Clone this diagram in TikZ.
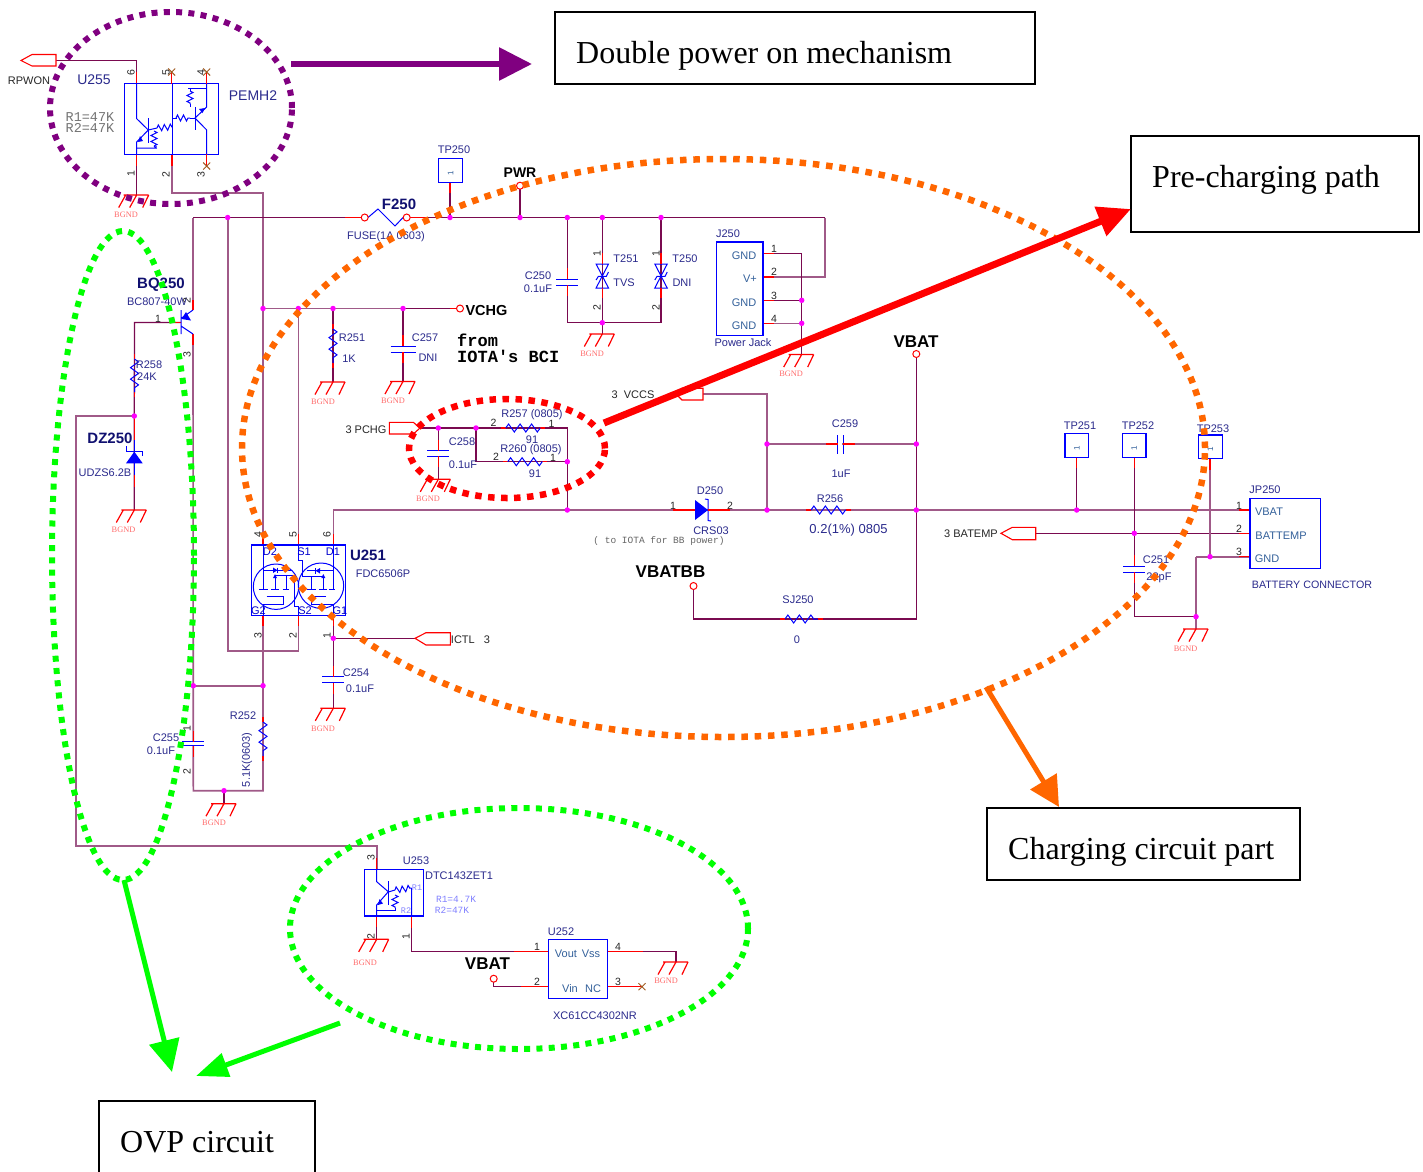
\documentclass[tikz,border=0pt]{standalone}
\usepackage{fontspec}
\setmainfont{Liberation Sans}
\newfontfamily\monof{Liberation Mono}
\newfontfamily\serf{Liberation Serif}
\usetikzlibrary{shapes.geometric,arrows.meta,decorations.pathmorphing}
\definecolor{wireD}{HTML}{7A0A50}
\definecolor{wireL}{HTML}{A05A88}
\definecolor{labB}{HTML}{2A2A8C}
\definecolor{pinB}{HTML}{33609A}
\definecolor{symB}{HTML}{0000FF}
\definecolor{navyB}{HTML}{101070}
\definecolor{gndR}{HTML}{FF6A6A}
\definecolor{xbr}{HTML}{A05A20}
\definecolor{orgD}{HTML}{FF6600}
\definecolor{grnD}{HTML}{00FF00}
\definecolor{purD}{HTML}{800080}
\definecolor{jcol}{HTML}{FF00FF}
\definecolor{redD}{HTML}{FF0000}
\tikzset{
  wire/.style={draw=wireD,line width=1.3pt},
  wirel/.style={draw=wireL,line width=1.6pt},
  stub/.style={draw=redD,line width=1.2pt},
  sym/.style={draw=symB,line width=1pt},
  chip/.style={draw=symB,line width=1.2pt,inner sep=0pt,outer sep=0pt},
  res/.style={draw=symB,line width=1pt,decorate,decoration={zigzag,segment length=11.5pt,amplitude=4pt}},
  port/.style={draw=redD,fill=white,line width=1.1pt},
  jdot/.style={circle,fill=jcol,inner sep=0pt,minimum size=5.5pt},
  term/.style={circle,draw=redD,fill=white,line width=1pt,inner sep=0pt,minimum size=7pt},
  lbl/.style={inner sep=0pt,text=labB,font=\fontsize{11}{11}\selectfont},
  num/.style={inner sep=0pt,text=black!85,font=\fontsize{10.5}{10.5}\selectfont},
  rnum/.style={num,rotate=90},
  pinl/.style={lbl,text=pinB},
  boldn/.style={inner sep=0pt,text=navyB,font=\fontsize{15}{15}\selectfont\bfseries},
  boldk/.style={inner sep=0pt,text=black,font=\fontsize{17}{17}\selectfont\bfseries},
  blk/.style={lbl,text=black!85},
  gndt/.style={inner sep=0pt,text=gndR,font=\fontsize{8.3}{8.3}\selectfont\serf},
  callout/.style={draw=black,line width=1.3pt,fill=white,rectangle,inner sep=0pt,outer sep=0pt},
  calltext/.style={inner sep=0pt,anchor=west,text=black,font=\fontsize{32}{32}\selectfont\serf},
  ring/.style={draw,ellipse,inner sep=0pt,outer sep=0pt},
  purring/.style={ring,draw=purD,line width=6pt,dash pattern=on 6pt off 6.3pt},
  grnring/.style={ring,draw=grnD,line width=6pt,dash pattern=on 6pt off 6.3pt},
  redring/.style={ring,draw=redD,line width=6.5pt,dash pattern=on 6.5pt off 6.5pt},
  orgring/.style={ring,draw=orgD,line width=6.5pt,dash pattern=on 6.5pt off 6.8pt},
}
\newcount\labn
\newcommand\lab[4][lbl]{\global\advance\labn by 1 \node[#1] (T\the\labn) at (#2,#3+0.8) {#4};}
\newcommand\gndS[4]{% x y labelx labely
  \draw[stub] (#1-13,#2) -- (#1+12,#2) (#1+12,#2) -- (#1+6,#2+12.5) (#1,#2) -- (#1-7,#2+12.5) (#1-11,#2) -- (#1-18,#2+12.5);
  \lab[gndt]{#3}{#4}{BGND}}
\newcommand\resH[3]{\draw[stub] (#1-5,#3) -- (#1,#3) (#2,#3) -- (#2+5,#3); \draw[res] (#1,#3) -- (#2,#3);}
\newcommand\resV[3]{\draw[stub] (#1,#2-5) -- (#1,#2) (#1,#3) -- (#1,#3+5); \draw[res] (#1,#2) -- (#1,#3);}
\newcommand\capH[4]{% x y1 y2 halfwidth: horizontal plates on a vertical wire
  \draw[draw=white,line width=3pt] (#1,#2) -- (#1,#3);
  \draw[sym] (#1-#4,#2) -- (#1+#4,#2) (#1-#4,#3) -- (#1+#4,#3);
  \draw[stub] (#1,#2-11) -- (#1,#2) (#1,#3) -- (#1,#3+11);}
\newcommand\xmark[2]{\draw[draw=xbr,line width=1pt] (#1-3.5,#2-3.5) -- (#1+3.5,#2+3.5) (#1-3.5,#2+3.5) -- (#1+3.5,#2-3.5);}
\newcommand\tvs[1]{% x, centred y=276
  \draw[sym] (#1-6.2,264) -- (#1+6.2,264) -- (#1,276) -- cycle (#1-6.2,288) -- (#1+6.2,288) -- (#1,276) -- cycle;
  \draw[sym] (#1-6.2,280) -- (#1-4,276.4) -- (#1+4,276.4) -- (#1+6.2,272);
  \draw[stub] (#1,253) -- (#1,264) (#1,288) -- (#1,298);}
\newcommand\tpbox[2]{% centre
  \node[chip,minimum width=23.6pt,minimum height=23.6pt] at (#1,#2) {};
  \lab[inner sep=0pt,text=pinB,rotate=90,font=\fontsize{8}{8}\selectfont]{#1}{#2+2}{1}}
\def\jlist{jA/227.7/217.5,jTA/450/217.5,jPW/520/217.5,jCa/567.3/217.5,jTb/602.3/217.5,jTc/661/217.5,
 jVa/263/308.5,jVb/298.3/308.5,jVc/333/308.5,jVd/403/308.5,jQ/134.3/416,jGa/193.3/685.7,jGb/263/685.7,jRb/224/790.7,
 jB/602.3/322.7,jJc/801.7/300.3,jJd/801.7/323.3,jPa/438.3/428,jPb/476/428,jRc/567.3/461.7,jBa/567.3/510,jCb/767/510,jCc/767/444,
 jVe/916.3/444,jVf/916.3/510,jTd/1076.7/510,jTe/1134.3/533.3,jI/333.3/638.3,jGc/1196/616.7,jTf/1210/556.7}
\begin{document}
\begin{tikzpicture}[x=1pt,y=-1pt]
\useasboundingbox (0,0) rectangle (1423,1171);
\clip (0,0) rectangle (1423,1171);
\foreach \n/\x/\y in \jlist {\coordinate (\n) at (\x,\y);}
% ---- named wire ends
\foreach \n/\x/\y in {pRP/56/60.7,pU6/136.7/83.5,pU1/136.7/154.3,pU2/172/154.3,gU/136.7/195,cU2/263/192.7,
 cRailL/193/217.5,fuL/364.7/217.5,fuR/406.7/217.5,cRailR/825/217.5,cJ2/825/277,J2/763/277,J1/763/253.3,J3/763/300.3,J4/763/323.3,cJ1/801.7/253.3,gJ/801.7/354.5,
 tp0/450/182.3,pwr/520/185.7,vchg/460/308.5,gR1/333/382,gC7/403/381.5,gB/602.3/334,cC0/567.3/322.7,cT0/661/322.7,
 cQb/134.5/322.5,qB/181/322.5,qC/193/300,qE/193/345,cQl/76/416,cOv/76/846,cOr/376.7/846,uT/376.7/869.3,uB/376.7/916,gU3/376.7/939.3,
 gZ/134.3/510,cG/193.3/790.7,cGr/263/790.7,gRb/224/803.7,cWl/227.7/650.7,cWr/298.3/650.7,uS2/298.3/615.3,uS1/298.3/545,uD2/263/545,uG2/263/615.3,
 uD1/333.3/545,cD1/333.3/510,uG1/333.3/615.3,gC4/333.3/708.3,iPort/415/638.3,pchg/420/428,cRa/567.3/428,cRb/476/461.7,gC8/438.3/479.3,
 jp1/1250/510,jp2/1250/533.3,jp3/1250/556.7,bPort/1035.7/533.3,tp1/1076.7/457.3,tp2/1134.3/457.3,tp3/1210/458.7,cBot/1134.3/616.7,cGnd/1196/556.7,gBat/1196/629,
 vccs/703/394,cVc/767/394,vbat/916.3/354,cVs/916.3/619,vbb/693.5/586,cVb/693.5/619,
 u3p/411.7/916,cU3/411.7/951.7,v1/548.7/951.7,v2/548.7/986.7,v4/607.7/951.7,v3/607.7/986.7,cV4/676/951.7,gV/676/962,xV/642/986.7,vb2/493.7/978.7,cV2/493.7/986.7}
 {\coordinate (\n) at (\x,\y);}
% ---- wires
\draw[wire] (pRP) -| (pU6);
\draw[wire] (pU1) -- (gU);
\draw[wirel] (pU2) |- (cU2) -- (jVa) -- (uD2);
\draw[wire] (cRailL) -- (fuL);
\draw[wire] (fuR) -- (jTA) -- (jPW) -- (jCa) -- (jTb) -- (jTc) -- (cRailR);
\draw[wirel] (cRailR) -- (cJ2) -- (J2);
\draw[wirel] (cRailL) -- (qC);
\draw[wirel] (qE) -- (cG) -- (cGr) -- (jGb) -- (uG2);
\draw[wirel] (jA) -- (cWl) -- (cWr) -- (uS2);
\draw[wirel] (jGa) -- (jGb);
\draw[wirel] (jVb) -- (uS1);
\draw[wirel] (jVa) -- (jVd);
\draw[wire] (jVd) -- (vchg);
\draw[wire] (jVc) -- (gR1);
\draw[wire] (jVd) -- (gC7);
\draw[wire] (jTA) -- (tp0);
\draw[wire] (jPW) -- (pwr);
\draw[wire] (jCa) |- (jB);
\draw[wire] (jTc) |- (jB);
\draw[wire] (jTb) -- (gB);
\draw[wire] (J1) -- (cJ1) -- (gJ);
\draw[wire] (J3) -- (jJc);
\draw[wirel] (J4) -- (jJd);
\draw[wire] (qB) -- (cQb) -- (jQ) -- (gZ);
\draw[wirel] (jQ) -- (cQl) -- (cOv) -- (cOr) -- (uT);
\draw[wire] (jRb) -- (gRb);
\draw[wire] (uB) -- (gU3);
\draw[wire] (u3p) |- (v1);
\draw[wire] (pchg) -- (cRa) -- (jBa);
\draw[wire] (jPb) |- (jRc);
\draw[wire] (jPa) -- (gC8);
\draw[wirel] (uD1) |- (jp1);
\draw[wire] (uG1) -- (gC4);
\draw[wire] (jI) -- (iPort);
\draw[wirel] (vccs) -| (jCb);
\draw[wirel] (jCc) -- (jVe);
\draw[wire] (vbat) -- (cVs) -| (vbb);
\draw[wire] (bPort) -- (jp2);
\draw[wire] (tp1) -- (jTd);
\draw[wire] (tp2) -- (cBot) -- (jGc);
\draw[wirel] (cGnd) -- (gBat);
\draw[wirel] (jp3) -- (cGnd);
\draw[wirel] (tp3) -- (jTf);
\draw[wire] (v4) -| (gV);
\draw[wire] (vb2) |- (v2);
\draw[stub] (v3) -- (xV);
\draw[stub] (v2) -- ++(-28,0) (v1) -- ++(-35,0) (v4) -- ++(35,0);
\draw[stub] (pU6) -- ++(0,-12) (pU1) -- ++(0,12) (pU2) -- ++(0,12) (uT) -- ++(0,-11) (uB) -- ++(0,11) (u3p) -- ++(0,12);
\draw[stub] (uD2) -- ++(0,-11) (uS1) -- ++(0,-11) (uD1) -- ++(0,-11) (uG2) -- ++(0,11) (uS2) -- ++(0,11) (uG1) -- ++(0,11);
\draw[stub] (J1) -- ++(11,0) (J2) -- ++(11,0) (J3) -- ++(11,0) (J4) -- ++(11,0) (tp0) -- ++(0,10.7) (tp1) -- ++(0,11) (tp2) -- ++(0,11) (tp3) -- ++(0,11);
\draw[stub] (jp1) -- ++(-11,0) (jp2) -- ++(-11,0) (jp3) -- ++(-11,0);
\draw[stub] (fuL) -- ++(-20,0) (fuR) -- ++(20,0) (vchg) -- ++(-10,0);
\draw[stub] (qB) -- ++(-12,0) (qC) -- ++(0,10) (qC) ++(0,34) -- ++(0,11);
% ---- RPWON and ports
\draw[port] (21,60.5) -- (32,54.5) -- (56,54.5) -- (56,66) -- (32,66) -- cycle;
\draw[port] (389.3,422.3) -- (413.3,422.3) -- (420,428) -- (413.3,434) -- (389.3,434) -- cycle;
\draw[port] (415,638.3) -- (426,632.7) -- (450.3,632.7) -- (450.3,645) -- (426,645) -- cycle;
\draw[port] (676,394) -- (682,388.2) -- (703,388.2) -- (703,400) -- (682,400) -- cycle;
\draw[port] (1001,533.3) -- (1012.3,527.3) -- (1035.7,527.3) -- (1035.7,539.7) -- (1012.3,539.7) -- cycle;
% ---- U255
\node[chip,minimum width=94.2pt,minimum height=70.8pt] (U255) at (171.6,118.9) {};
\draw[sym] (136.7,83.5) -- (136.7,118.7) -- (148.3,130) -- (136.7,142) -- (136.7,154.3);
\draw[sym] (148.3,118) -- (148.3,143);
\fill[symB] (138,142) -- (143,141) -- (140,136) -- cycle;
\draw[sym] (172,84) -- (172,154.3) (172,118.3) -- (177,118.3);
\draw[res,decoration={zigzag,segment length=6pt,amplitude=3pt}] (157,128) -- (172,127);
\draw[sym] (148.3,130) -- (157,128);
\draw[res,decoration={zigzag,segment length=6pt,amplitude=3pt}] (154,131) -- (154,146);
\draw[sym] (154,146) -- (156,148) -- (136.7,148) (156,148) -- (156,146);
\draw[sym] (206.7,84) -- (206.7,107) -- (195,118) -- (206.7,130) -- (206.7,154.3);
\draw[sym] (195,107) -- (195,130);
\fill[symB] (205,108) -- (199,109) -- (202.5,113) -- cycle;
\draw[res,decoration={zigzag,segment length=6pt,amplitude=3pt}] (176,118) -- (190,118);
\draw[sym] (190,118) -- (195,118);
\draw[res,decoration={zigzag,segment length=6pt,amplitude=3pt}] (190,91) -- (190,104);
\draw[sym] (188,88.5) -- (206.7,88.5) (190,88.5) -- (190,91) (190,104) -- (190,107);
\draw[stub] (171.7,72) -- (171.7,83.5) (206.7,72) -- (206.7,83.5) (206.7,154.3) -- (206.7,166);
\xmark{171.7}{72}\xmark{206.7}{72}\xmark{206.7}{166}
\lab[blk]{29}{79.5}{RPWON}
\lab[lbl,font=\fontsize{14}{14}\selectfont]{94}{78.5}{U255}
\lab[lbl,font=\fontsize{14}{14}\selectfont]{253}{95}{PEMH2}
\lab[lbl,text=black!55,font=\fontsize{13.5}{11}\selectfont\monof]{90}{116}{R1=47K}
\lab[lbl,text=black!55,font=\fontsize{13.5}{11}\selectfont\monof]{90}{127}{R2=47K}
\lab[rnum]{131}{72}{6}\lab[rnum]{166}{72}{5}\lab[rnum]{201}{72}{4}
\lab[rnum]{131}{173}{1}\lab[rnum]{166}{174}{2}\lab[rnum]{201}{174}{3}
\gndS{136.7}{195}{126}{214}
% ---- F250, TP250
\draw[sym] (368,217.5) -- (378,209) -- (395,226) -- (403,217.5);
\node[term] (F1) at (fuL) {};
\node[term] (F2) at (fuR) {};
\lab[boldn]{399}{204}{F250}
\lab{386}{236}{FUSE(1A 0603)}
\tpbox{450.5}{170.5}
\lab{454}{149}{TP250}
\lab[boldk,font=\fontsize{14}{14}\selectfont\bfseries]{520}{172}{PWR}
\node[term] (PWRt) at (pwr) {};
% ---- VCHG group
\node[term] (VC) at (vchg) {};
\lab[boldk,font=\fontsize{14.5}{14.5}\selectfont\bfseries]{486.5}{309.5}{VCHG}
\resV{333}{329}{363}
\lab{352}{337}{R251}\lab{349}{358}{1K}
\gndS{333}{382}{323}{401}
\capH{403}{346}{352}{12.5}
\lab{425}{337}{C257}\lab{428}{357}{DNI}
\gndS{403}{381.5}{393}{400}
\lab[lbl,anchor=west,text=black,font=\fontsize{17}{14}\selectfont\monof\bfseries]{457}{339.5}{from}
\lab[lbl,anchor=west,text=black,font=\fontsize{17}{14}\selectfont\monof\bfseries]{457}{355.5}{IOTA's BCI}
% ---- C250 T251 T250 J250
\capH{567.3}{279.3}{285}{11}
\lab{538}{275}{C250}\lab{538}{288}{0.1uF}
\tvs{602.3}\tvs{661}
\lab[rnum]{597}{253}{1}\lab[rnum]{597}{307}{2}\lab[rnum]{656}{253}{1}\lab[rnum]{656}{307}{2}
\lab{626}{258}{T251}\lab{624}{282}{TVS}\lab{685}{258}{T250}\lab{682}{282}{DNI}
\gndS{602.3}{334}{592}{353}
\node[chip,minimum width=46.7pt,minimum height=93.7pt] (J250) at (739.7,288.9) {};
\lab{728}{233}{J250}\lab{743}{342}{Power Jack}
\lab[pinl]{744}{255}{GND}\lab[pinl]{750}{278}{V+}\lab[pinl]{744}{302}{GND}\lab[pinl]{744}{325}{GND}
\lab[num]{774}{248}{1}\lab[num]{774}{271}{2}\lab[num]{774}{295}{3}\lab[num]{774}{318}{4}
\gndS{801.7}{354.5}{791}{373}
% ---- BQ250, R258, DZ250
\draw[sym] (181,310) -- (181,334) (181,318.5) -- (193,310) (181,326) -- (193,334);
\fill[symB] (181.5,319) -- (191,320.5) -- (186,312) -- cycle;
\lab[boldn]{161}{284}{BQ250}
\lab{157}{301}{BC807-40W}
\lab[rnum]{187}{300}{2}\lab[num]{158}{318}{1}\lab[rnum]{187}{354}{3}
\resV{134.5}{359}{392}
\lab{149}{364}{R258}\lab{147}{376}{24K}
\draw[stub] (134.3,416) -- (134.3,440) (134.3,463) -- (134.3,487);
\draw[sym] (134.3,440) -- (134.3,451.7) (134.3,463) -- (134.3,475);
\draw[sym] (126,446) -- (126,451.7) -- (142.7,451.7) -- (142.7,456);
\fill[symB] (134.3,451.7) -- (126,463.3) -- (142.7,463.3) -- cycle;
\lab[boldn]{110}{438}{DZ250}
\lab{105}{472}{UDZS6.2B}
\gndS{134.3}{510}{123.5}{529}
% ---- C255, R252
\capH{193.3}{741.7}{745.7}{11}
\lab{166}{737}{C255}\lab{161}{750}{0.1uF}
\lab[rnum]{187}{728}{1}\lab[rnum]{187}{771}{2}
\resV{263}{722}{756}
\lab{243}{715}{R252}
\lab[lbl,rotate=90]{247}{759}{5.1K(0603)}
\gndS{224}{803.7}{214}{822}
% ---- U251
\node[chip,minimum width=94pt,minimum height=70.3pt] (U251) at (298.7,580.2) {};
\draw[sym] (276,586.7) circle[radius=22.7];
\draw[sym] (321,585.7) circle[radius=22.7];
\draw[sym] (263.3,545) -- (263.3,589.6) (259.3,589.6) -- (267.7,589.6);
\draw[sym] (275,575) -- (275,589.6) (271,589.6) -- (279.3,589.6);
\draw[sym] (286.7,575) -- (286.7,589.6) (282.7,589.6) -- (289,589.6) (275,575) -- (294,575);
\draw[sym] (263.3,570) -- (291.5,570);
\draw[sym] (266.7,596.7) -- (283.3,596.7) -- (283.3,604) -- (263.3,604) -- (263.3,615);
\draw[sym] (298.3,615.3) -- (298.3,606) -- (294,606) -- (294,575);
\fill[symB] (273,567.5) -- (273,573) -- (277.5,570.2) -- cycle;
\draw[sym] (277.5,567.5) -- (277.5,573);
\draw[sym] (333.3,545) -- (333.3,589.6) (329.3,589.6) -- (335,589.6);
\draw[sym] (323.3,576.7) -- (323.3,589.6) (319,589.6) -- (327,589.6);
\draw[sym] (311.7,576.7) -- (311.7,589.6) (306.5,589.6) -- (316,589.6);
\draw[sym] (298.3,545) -- (298.3,560) -- (302.7,560) -- (302.7,576.7) -- (323.3,576.7);
\draw[sym] (306.7,570.7) -- (333.3,570.7);
\draw[sym] (326,596.7) -- (311.7,596.7) -- (311.7,604) -- (333.3,604) -- (333.3,615);
\fill[symB] (320,568) -- (320,573.5) -- (315.5,570.7) -- cycle;
\draw[sym] (315.5,568) -- (315.5,573.5);
\fill[symB] (273,578) -- (277,578) -- (275,574) -- cycle;
\fill[symB] (321.3,578) -- (325.3,578) -- (323.3,574) -- cycle;
\lab[lbl,text=symB!80!black]{270}{550.5}{D2}\lab[lbl,text=symB!80!black]{304}{551}{S1}\lab[lbl,text=symB!80!black]{333}{551}{D1}
\lab[lbl,text=symB!80!black]{258.5}{610}{G2}\lab[lbl,text=symB!80!black]{305}{610}{S2}\lab[lbl,text=symB!80!black]{340}{610}{G1}
\lab[boldn]{368}{555}{U251}\lab{383}{573}{FDC6506P}
\lab[rnum]{258}{534}{4}\lab[rnum]{293}{534}{5}\lab[rnum]{327}{534}{6}
\lab[rnum]{258}{635}{3}\lab[rnum]{293}{635}{2}\lab[rnum]{327}{635}{1}
\lab[blk]{470.5}{639}{ICTL\ \ \ 3}
\capH{333.3}{676.7}{682.7}{11}
\lab{356}{672}{C254}\lab{360}{688}{0.1uF}
\gndS{333.3}{708.3}{323}{728}
% ---- PCHG group
\lab[blk]{366}{428.5}{3 PCHG}
\capH{438.3}{450.7}{456}{11}
\lab{462}{441}{C258}\lab{463}{464}{0.1uF}
\gndS{438.3}{479.3}{428}{498}
\resH{505.7}{540.3}{428}
\resH{507.7}{542.3}{461.7}
\lab[num]{493.5}{422}{2}\lab{532}{414}{R257 (0805)}\lab[num]{551.5}{423}{1}\lab{532}{439}{91}
\lab[num]{496}{456}{2}\lab{531}{449}{R260 (0805)}\lab[num]{553}{457}{1}\lab{535}{473}{91}
% ---- D250 etc
\fill[symB] (695,500) -- (708,510) -- (695,520) -- cycle;
\draw[sym] (705,499) -- (708,499.5) -- (708,520.5) -- (711,521);
\draw[stub] (673,510) -- (695,510) (708,510) -- (730,510);
\lab{710}{490}{D250}\lab{711}{530}{CRS03}
\lab[num]{673}{505}{1}\lab[num]{730}{505}{2}
\lab[lbl,text=black!60,font=\fontsize{9.5}{9.5}\selectfont\monof]{659}{540}{( to IOTA for BB power)}
\lab[blk]{633}{394}{3\ \ VCCS}
\draw[draw=white,line width=3pt] (838,444) -- (842,444);
\draw[sym] (837.5,435) -- (837.5,454) (843,435) -- (843,454);
\draw[stub] (826,444) -- (837.5,444) (843,444) -- (855,444);
\lab{845}{423}{C259}\lab{841}{473}{1uF}
\lab[boldk]{916}{341}{VBAT}
\node[term] (VBt) at (vbat) {};
\resH{811}{846}{510}
\lab{830}{498}{R256}
\lab[lbl,font=\fontsize{13}{13}\selectfont]{848.5}{529}{0.2(1\%) 0805}
\lab[boldk]{670.5}{571}{VBATBB}
\node[term] (VBB) at (vbb) {};
\resH{785}{818}{619}
\lab{798}{599}{SJ250}\lab{797}{639}{0}
% ---- right side
\lab[blk]{971}{533}{3 BATEMP}
\tpbox{1076.8}{445.3}\lab{1080}{425}{TP251}
\tpbox{1134.2}{445.3}\lab{1138}{425}{TP252}
\tpbox{1210.3}{446.8}\lab{1213}{428}{TP253}
\capH{1134.3}{566}{572}{11}
\lab{1156}{559}{C251}\lab{1159}{577}{22pF}
\node[chip,minimum width=70.3pt,minimum height=70pt] (JP250) at (1285.2,533.7) {};
\lab{1265}{489}{JP250}
\lab[pinl]{1269}{511}{VBAT}\lab[pinl]{1281}{535}{BATTEMP}\lab[pinl]{1267}{558}{GND}
\lab[num]{1239}{505}{1}\lab[num]{1239}{528}{2}\lab[num]{1239}{551}{3}
\lab[lbl,font=\fontsize{10.7}{10.7}\selectfont]{1312}{584}{BATTERY CONNECTOR}
\gndS{1196}{629}{1185.5}{648}
% ---- OVP part
\node[chip,minimum width=59pt,minimum height=46.7pt] (U253) at (393.8,892.7) {};
\draw[sym] (376.7,869.3) -- (376.7,881.7) -- (388.3,891.7) -- (376.7,905) -- (376.7,916);
\draw[sym] (388.3,881) -- (388.3,905);
\fill[symB] (378,905) -- (383,903.5) -- (379.5,899) -- cycle;
\draw[res,decoration={zigzag,segment length=6pt,amplitude=3pt}] (395,890) -- (411.7,888);
\draw[sym] (388.3,892) -- (395,890) (411.7,888) -- (411.7,916);
\draw[res,decoration={zigzag,segment length=6pt,amplitude=3pt}] (395,895) -- (395,908);
\draw[sym] (395,908) -- (395,910) -- (376.7,910);
\lab{416}{860}{U253}\lab{459}{875}{DTC143ZET1}
\lab[lbl,text=blue!50,font=\fontsize{8.5}{8.5}\selectfont\monof]{417}{887}{R1}
\lab[lbl,text=blue!50,font=\fontsize{8.5}{8.5}\selectfont\monof]{406}{910}{R2}
\lab[lbl,text=blue!50,font=\fontsize{9.5}{9.5}\selectfont\monof]{456}{899}{R1=4.7K}
\lab[lbl,text=blue!50,font=\fontsize{9.5}{9.5}\selectfont\monof]{452}{910}{R2=47K}
\lab[rnum]{371}{857}{3}\lab[rnum]{371}{936}{2}\lab[rnum]{406}{936}{1}
\gndS{376.7}{939.3}{365}{962}
\node[chip,minimum width=59pt,minimum height=59pt] (U252) at (578.2,968.8) {};
\lab{561}{931}{U252}
\lab[pinl]{566}{953}{Vout}\lab[pinl]{591}{953}{Vss}\lab[pinl]{570}{988}{Vin}\lab[pinl]{593}{988}{NC}
\lab[num]{537}{946}{1}\lab[num]{537}{981}{2}\lab[num]{618}{946}{4}\lab[num]{618}{981}{3}
\gndS{676}{962}{666}{980}
\xmark{642}{986.7}
\lab[boldk]{487.5}{963}{VBAT}
\node[term] (VBo) at (vb2) {};
\lab{595}{1015}{XC61CC4302NR}
% ---- junction dots
\foreach \n/\x/\y in \jlist {\node[jdot] (d\n) at (\n) {};}
% ---- callouts
\node[callout,minimum width=480pt,minimum height=72pt] (boxD) at (795,48) {};
\node[calltext] (txtD) at (576,56) {Double power on mechanism};
\node[callout,minimum width=288pt,minimum height=96pt] (boxP) at (1275,184) {};
\node[calltext] (txtP) at (1152,180) {Pre-charging path};
\node[callout,minimum width=313pt,minimum height=72pt] (boxC) at (1143.5,844) {};
\node[calltext] (txtC) at (1008,852) {Charging circuit part};
\node[callout,minimum width=216pt,minimum height=90pt] (boxO) at (207,1146) {};
\node[calltext] (txtO) at (120,1142.5) {OVP circuit};
% ---- dotted rings
\node[purring,minimum width=242pt,minimum height=192pt] (ringP) at (171,108) {};
\node[grnring,minimum width=142pt,minimum height=649pt] (ringG) at (123,555.5) {};
\node[grnring,minimum width=458pt,minimum height=241pt] (ringH) at (519,928.5) {};
\node[redring,minimum width=196pt,minimum height=99pt] (ringR) at (507,448.5) {};
\node[orgring,minimum width=963pt,minimum height=578pt] (ringO) at (723.5,448) {};
% ---- arrows
\coordinate (aPa) at (291,64);\coordinate (aPb) at (532,64);
\coordinate (aRa) at (604,423);\coordinate (aRb) at (1131,209);
\coordinate (aOa) at (986,687);\coordinate (aOb) at (1059,807);
\coordinate (aGa) at (124,880);\coordinate (aGb) at (172,1072);
\coordinate (aHa) at (340,1023);\coordinate (aHb) at (196,1076);
\draw[draw=purD,fill=purD,line width=6pt,-{Triangle[length=33pt,width=32pt]}] (aPa) -- (aPb);
\draw[draw=redD,fill=redD,line width=7pt,-{Triangle[length=33pt,width=30pt]}] (aRa) -- (aRb);
\draw[draw=orgD,fill=orgD,line width=5pt,-{Triangle[length=30pt,width=30pt]}] (aOa) -- (aOb);
\draw[draw=grnD,fill=grnD,line width=5pt,-{Triangle[length=32pt,width=30pt]}] (aGa) -- (aGb);
\draw[draw=grnD,fill=grnD,line width=5pt,-{Triangle[length=32pt,width=24pt]}] (aHa) -- (aHb);
\end{tikzpicture}
\end{document}
